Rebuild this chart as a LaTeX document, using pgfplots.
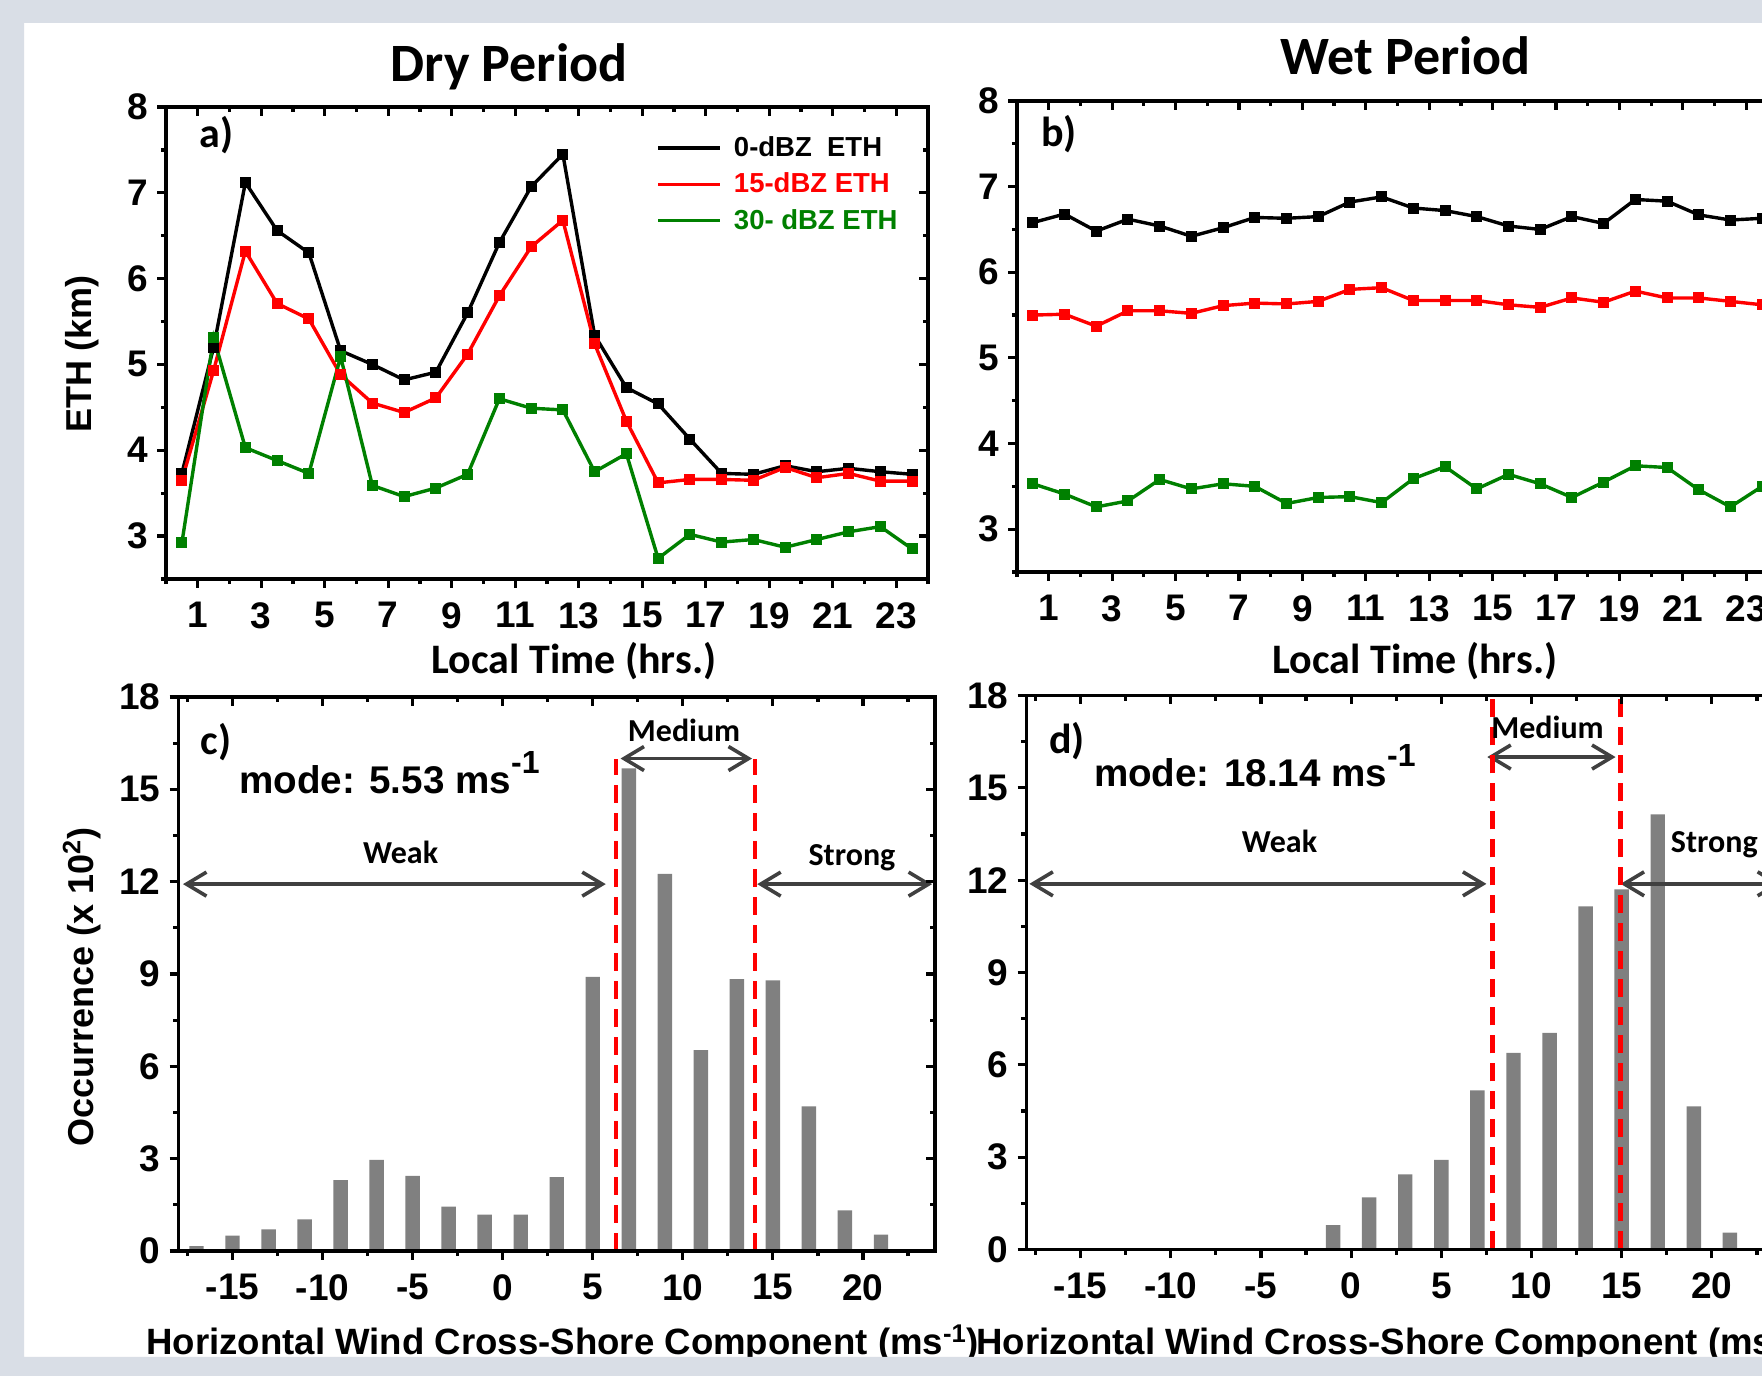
\documentclass[border=0pt]{standalone}
\usepackage{fontspec}
\setmainfont{Liberation Sans}
\newfontfamily\calib{Carlito}
\usepackage{pgfplots}
\pgfplotsset{compat=1.18}
\usetikzlibrary{arrows.meta}
\definecolor{bgb}{HTML}{D9DEE6}
\definecolor{myred}{HTML}{FF0000}
\definecolor{mygreen}{HTML}{008000}
\definecolor{bargray}{HTML}{808080}
\definecolor{arrgray}{HTML}{404040}

\pgfplotsset{
  common/.style={scale only axis, anchor=south west,
    axis line style={line width=1.6pt},
    every tick/.append style={line width=1.6pt, black},
    major tick length=4.5pt, minor tick length=2.6pt,
    tick label style={font=\fontsize{18.5}{18.5}\selectfont\bfseries},
    xticklabel style={yshift=-3.6pt},
    yticklabel style={xshift=-1pt},
  },
  etha/.style={common, xmin=0, xmax=24, ymin=2.5, ymax=8,
    xtick={1,3,5,7,9,11,13,15,17,19,21,23},
    xticklabels={1,3,5,7,9,11,13,15,17,19,21,23},
    ytick={3,4,5,6,7,8}, yticklabels={3,4,5,6,7,8},
    minor xtick={0,2,...,24}, minor ytick={2.5,3.5,...,7.5}},
  occ/.style={common, xmin=-18, xmax=24, ymin=0, ymax=18,
    xtick={-15,-10,-5,0,5,10,15,20},
    xticklabels={-15,-10,-5,0,5,10,15,20},
    ytick={0,3,6,9,12,15,18}, yticklabels={0,3,6,9,12,15,18},
    minor xtick={-17.5,-12.5,...,22.5}, minor ytick={1.5,4.5,...,16.5}, clip=false},
  lo/.style={tick align=outside, xtick pos=left, ytick pos=left},
  up/.style={tick align=inside, xtick pos=right, ytick pos=right, xticklabels={}, yticklabels={}},
  ln/.style={line width=1.7pt, mark=square*, mark size=1.9pt, mark options={solid}},
  arr/.style={arrgray, line width=1.8pt, {Straight Barb[length=10pt,width=12pt]}-{Straight Barb[length=10pt,width=12pt]}},
  rdash/.style={myred, line width=2.3pt, dash pattern=on 9pt off 5pt},
}
\newcommand{\lab}{\calib\bfseries\fontsize{16}{16}\selectfont}

\begin{document}
\begin{tikzpicture}
\useasboundingbox (0,0) rectangle (881pt,688pt);
\clip (0,0) rectangle (881pt,688pt);
\fill[white] (0,0) rectangle (881pt,688pt);

% ---------- Panel a ----------
\begin{axis}[etha, lo, at={(83pt,398.5pt)}, width=381pt, height=236pt,
  legend style={at={(0.6354,0.836)}, anchor=west, draw=none, fill=none,
    font=\fontsize{13.75}{14}\selectfont\bfseries, row sep=2.7pt},
  legend cell align=left,
  legend image code/.code={\draw[#1, mark=none, line width=1.7pt] (0pt,0pt) -- (31pt,0pt); \path (35pt,0pt);}]
\addplot[black, ln] coordinates {(0.5,3.73) (1.5,5.2) (2.5,7.12) (3.5,6.56) (4.5,6.30) (5.5,5.16) (6.5,5.00) (7.5,4.82) (8.5,4.91) (9.5,5.60) (10.5,6.42) (11.5,7.07) (12.5,7.45) (13.5,5.34) (14.5,4.73) (15.5,4.54) (16.5,4.13) (17.5,3.73) (18.5,3.72) (19.5,3.82) (20.5,3.75) (21.5,3.79) (22.5,3.75) (23.5,3.72)};
\addlegendentry{\textcolor{black}{0-dBZ~~ETH}}
\addplot[myred, ln] coordinates {(0.5,3.65) (1.5,4.93) (2.5,6.32) (3.5,5.71) (4.5,5.53) (5.5,4.88) (6.5,4.55) (7.5,4.44) (8.5,4.61) (9.5,5.12) (10.5,5.80) (11.5,6.37) (12.5,6.68) (13.5,5.24) (14.5,4.34) (15.5,3.62) (16.5,3.66) (17.5,3.66) (18.5,3.65) (19.5,3.80) (20.5,3.68) (21.5,3.73) (22.5,3.64) (23.5,3.64)};
\addlegendentry{\textcolor{myred}{15-dBZ ETH}}
\addplot[mygreen, ln] coordinates {(0.5,2.92) (1.5,5.31) (2.5,4.03) (3.5,3.88) (4.5,3.73) (5.5,5.09) (6.5,3.59) (7.5,3.46) (8.5,3.56) (9.5,3.72) (10.5,4.60) (11.5,4.49) (12.5,4.47) (13.5,3.75) (14.5,3.96) (15.5,2.74) (16.5,3.02) (17.5,2.93) (18.5,2.96) (19.5,2.87) (20.5,2.96) (21.5,3.05) (22.5,3.11) (23.5,2.85)};
\addlegendentry{\textcolor{mygreen}{30- dBZ ETH}}
\node[font=\calib\bfseries\fontsize{21}{21}\selectfont] at (axis cs:1.58,7.67) {a)};
\end{axis}
\begin{axis}[etha, up, at={(83pt,398.5pt)}, width=381pt, height=236pt]
\end{axis}

% ---------- Panel b ----------
\begin{axis}[etha, lo, at={(508.5pt,402pt)}, width=380.5pt, height=235.5pt]
\addplot[black, ln] coordinates {(0.5,6.58) (1.5,6.68) (2.5,6.48) (3.5,6.62) (4.5,6.54) (5.5,6.42) (6.5,6.52) (7.5,6.64) (8.5,6.63) (9.5,6.65) (10.5,6.82) (11.5,6.88) (12.5,6.75) (13.5,6.72) (14.5,6.65) (15.5,6.54) (16.5,6.50) (17.5,6.65) (18.5,6.57) (19.5,6.85) (20.5,6.83) (21.5,6.67) (22.5,6.61) (23.5,6.63)};
\addplot[myred, ln] coordinates {(0.5,5.50) (1.5,5.51) (2.5,5.37) (3.5,5.55) (4.5,5.55) (5.5,5.52) (6.5,5.61) (7.5,5.64) (8.5,5.63) (9.5,5.66) (10.5,5.80) (11.5,5.82) (12.5,5.67) (13.5,5.67) (14.5,5.67) (15.5,5.62) (16.5,5.59) (17.5,5.70) (18.5,5.65) (19.5,5.78) (20.5,5.70) (21.5,5.70) (22.5,5.66) (23.5,5.62)};
\addplot[mygreen, ln] coordinates {(0.5,3.53) (1.5,3.41) (2.5,3.26) (3.5,3.33) (4.5,3.58) (5.5,3.47) (6.5,3.53) (7.5,3.50) (8.5,3.30) (9.5,3.37) (10.5,3.38) (11.5,3.31) (12.5,3.59) (13.5,3.73) (14.5,3.47) (15.5,3.64) (16.5,3.53) (17.5,3.37) (18.5,3.55) (19.5,3.74) (20.5,3.72) (21.5,3.46) (22.5,3.26) (23.5,3.50)};
\node[font=\calib\bfseries\fontsize{21}{21}\selectfont] at (axis cs:1.32,7.61) {b)};
\end{axis}
\begin{axis}[etha, up, at={(508.5pt,402pt)}, width=380.5pt, height=235.5pt]
\end{axis}

% ---------- Panel c ----------
\begin{axis}[occ, lo, at={(89.25pt,62.5pt)}, width=378.25pt, height=277pt]
\addplot[ybar, bar width=0.8, fill=bargray, draw=none] coordinates {(-17,0.16) (-15,0.50) (-13,0.70) (-11,1.03) (-9,2.30) (-7,2.96) (-5,2.44) (-3,1.44) (-1,1.18) (1,1.18) (3,2.40) (5,8.91) (7,15.68) (9,12.25) (11,6.53) (13,8.83) (15,8.79) (17,4.70) (19,1.32) (21,0.53)};
\addplot[arr] coordinates {(-17.75,11.92) (5.72,11.92)};
\addplot[arr] coordinates {(14.13,11.92) (23.84,11.92)};
\addplot[arr] coordinates {(6.54,16.0) (13.84,16.0)};
\addplot[rdash] coordinates {(6.3,0) (6.3,16)};
\addplot[rdash] coordinates {(14.0,0) (14.0,16)};
\node[font=\calib\bfseries\fontsize{21}{21}\selectfont] at (axis cs:-15.9,16.54) {c)};
\node[font=\bfseries\fontsize{19.3}{20}\selectfont, anchor=base west, inner sep=0pt] at (axis cs:-14.64,14.88) {mode: 5.53 ms\raisebox{10pt}{\fontsize{16}{16}\selectfont -1}};
\node[font=\lab, anchor=base] at (axis cs:-5.67,12.58) {Weak};
\node[font=\lab, anchor=base] at (axis cs:10.07,16.56) {Medium};
\node[font=\lab, anchor=base] at (axis cs:19.39,12.52) {Strong};
\end{axis}
\begin{axis}[occ, up, at={(89.25pt,62.5pt)}, width=378.25pt, height=277pt]
\end{axis}

% ---------- Panel d ----------
\begin{axis}[occ, lo, at={(513.25pt,63.25pt)}, width=378.75pt, height=277pt]
\addplot[ybar, bar width=0.8, fill=bargray, draw=none] coordinates {(-1,0.79) (1,1.69) (3,2.44) (5,2.91) (7,5.17) (9,6.39) (11,7.04) (13,11.15) (15,11.70) (17,14.14) (19,4.65) (21,0.55)};
\addplot[arr] coordinates {(-17.84,11.88) (7.5,11.88)};
\addplot[arr] coordinates {(14.94,11.88) (23.84,11.88)};
\addplot[arr] coordinates {(7.55,16.0) (14.66,16.0)};
\addplot[rdash] coordinates {(7.85,0) (7.85,18)};
\addplot[rdash] coordinates {(14.95,0) (14.95,18)};
\node[font=\calib\bfseries\fontsize{21}{21}\selectfont] at (axis cs:-15.75,16.52) {d)};
\node[font=\bfseries\fontsize{19.3}{20}\selectfont, anchor=base west, inner sep=0pt] at (axis cs:-14.28,15.04) {mode: 18.14 ms\raisebox{10pt}{\fontsize{16}{16}\selectfont -1}};
\node[font=\lab, anchor=base] at (axis cs:-3.97,12.91) {Weak};
\node[font=\lab, anchor=base] at (axis cs:10.89,16.59) {Medium};
\node[font=\lab, anchor=base west, inner sep=0pt] at (axis cs:17.71,12.91) {Strong};
\end{axis}
\begin{axis}[occ, up, at={(513.25pt,63.25pt)}, width=378.75pt, height=277pt]
\end{axis}

% ---------- titles and labels ----------
\node[font=\calib\bfseries\fontsize{27}{27}\selectfont, anchor=base] at (254.5pt,647.2pt) {Dry Period};
\node[font=\calib\bfseries\fontsize{27}{27}\selectfont, anchor=base] at (702.8pt,650.5pt) {Wet Period};
\node[rotate=90, font=\bfseries\fontsize{18}{18}\selectfont] at (41pt,511pt) {ETH (km)};
\node[font=\calib\bfseries\fontsize{21}{21}\selectfont] at (287pt,357.5pt) {Local Time (hrs.)};
\node[font=\calib\bfseries\fontsize{21}{21}\selectfont] at (707.5pt,357.5pt) {Local Time (hrs.)};
\node[rotate=90, font=\bfseries\fontsize{18}{18}\selectfont] at (40.85pt,194.5pt) {Occurrence (x 10\textsuperscript{2})};
\node[font=\bfseries\fontsize{18.3}{18.3}\selectfont, anchor=base west, inner sep=0pt] at (73pt,10.5pt) {Horizontal Wind Cross-Shore Component (ms\textsuperscript{-1})};
\node[font=\bfseries\fontsize{18.3}{18.3}\selectfont, anchor=base west, inner sep=0pt] at (488pt,10.5pt) {Horizontal Wind Cross-Shore Component (ms\textsuperscript{-1})};

% ---------- frame ----------
\fill[bgb, even odd rule] (0,0) rectangle (881pt,688pt) (12pt,9.5pt) rectangle (895pt,676.5pt);
\end{tikzpicture}
\end{document}
